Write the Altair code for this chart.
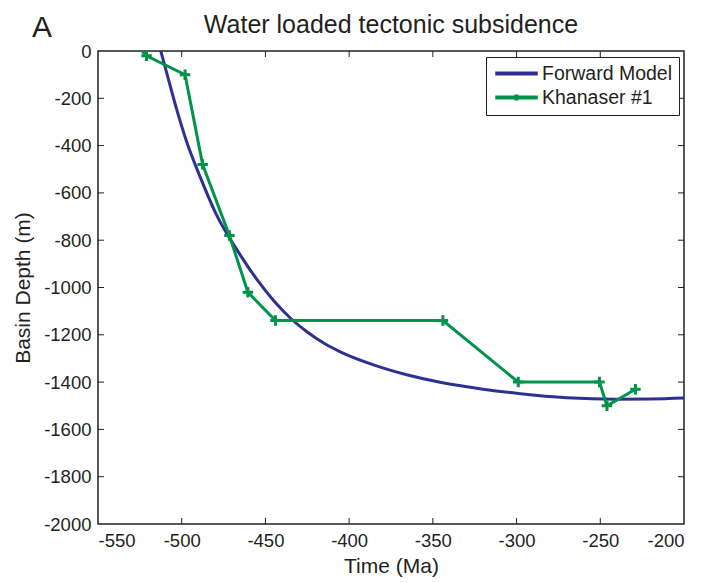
import altair as alt
import pandas as pd

# ---- data ----
model_time = [-515, -512.5, -508, -503, -497, -489, -480, -465, -455, -445, -435, -425, -415,
              -405, -385, -365, -345, -320, -299, -270, -240, -220, -200]
model_depth = [65, 0, -118, -247, -385, -532, -681, -863, -967, -1056, -1130, -1188, -1236,
               -1273, -1328, -1370, -1402, -1430, -1448, -1466, -1472, -1471, -1467]

well_time = [-529, -521, -498, -487.5, -471.5, -460.5, -444, -344, -299, -250.5, -246, -229]
well_depth = [40, -20, -100, -480, -780, -1020, -1140, -1140, -1400, -1400, -1500, -1430]

series_names = ["Forward Model", "Khanaser #1"]
x_ticks = [-550, -500, -450, -400, -350, -300, -250, -200]
y_ticks = [-2000, -1800, -1600, -1400, -1200, -1000, -800, -600, -400, -200, 0]
title_text = "Water loaded tectonic subsidence"
panel_text = "A"

BLUE = "#2e3192"
GREEN = "#00934a"
INK = "#231f20"
FONT = "Liberation Sans"
W, H = 586, 473

model = pd.DataFrame({"time": model_time, "depth": model_depth, "series": series_names[0]})
well = pd.DataFrame({"time": well_time, "depth": well_depth, "series": series_names[1]})
both = pd.concat([model, well], ignore_index=True)

xscale = alt.Scale(domain=[-550, -200], nice=False, zero=False)
yscale = alt.Scale(domain=[-2000, 0], nice=False, zero=False)

xaxis = alt.Axis(values=x_ticks, labelExpr="'' + datum.value", ticks=False, domain=False,
                 grid=False, labelPadding=7, labelFontSize=18.5, labelFont=FONT, labelColor=INK,
                 title="Time (Ma)", titleFontSize=21, titleFont=FONT, titleColor=INK,
                 titleFontWeight="normal", titlePadding=6)
yaxis = alt.Axis(values=y_ticks, labelExpr="'' + datum.value", ticks=False, domain=False,
                 grid=False, labelPadding=7, labelFontSize=18.5, labelFont=FONT, labelColor=INK,
                 title="Basin Depth (m)", titleFontSize=21, titleFont=FONT, titleColor=INK,
                 titleFontWeight="normal", titlePadding=10)

X = lambda f: alt.X(f, scale=xscale, axis=xaxis)
Y = lambda f: alt.Y(f, scale=yscale, axis=yaxis)

legend = alt.Legend(title=None, orient="none", legendX=388, legendY=6,
                    symbolSize=289, symbolStrokeWidth=4, symbolOffset=14, symbolOpacity=1,
                    labelFontSize=19.5, labelFont=FONT, labelColor=INK, labelOffset=15,
                    rowPadding=3, padding=6, strokeColor=INK, fillColor="white")
color = alt.Color("series:N", scale=alt.Scale(domain=series_names, range=[BLUE, GREEN]),
                  legend=legend)
shape = alt.Shape("series:N",
                  scale=alt.Scale(domain=series_names,
                                  range=["M-2.5,0L2.5,0",
                                         "M-2.5,0L2.5,0M0,-0.35L0,0.35M-0.35,0L0.35,0"]),
                  legend=legend)

model_line = alt.Chart(model).mark_line(strokeWidth=3, interpolate="monotone", clip=True).encode(
    x=X("time:Q"), y=Y("depth:Q"), color=color,
)

well_line = alt.Chart(well).mark_line(strokeWidth=3, clip=True).encode(
    x=X("time:Q"), y=Y("depth:Q"), color=color,
)

# invisible layer that only supplies the legend symbols
legend_keys = alt.Chart(both).mark_point(filled=False, opacity=0).encode(
    x=X("time:Q"), y=Y("depth:Q"), color=color, shape=shape,
)

well_pts = alt.Chart(well).mark_point(
    shape="M-1,0L1,0M0,-1L0,1", filled=False, strokeWidth=3, size=110, opacity=1, clip=True
).encode(
    x=X("time:Q"), y=Y("depth:Q"), color=alt.value(GREEN),
)

xt = pd.DataFrame({"t": x_ticks[1:-1]})
yt = pd.DataFrame({"t": y_ticks[1:-1]})
tick_top = alt.Chart(xt).mark_rule(color=INK, strokeWidth=1).encode(
    x=X("t:Q"), y=alt.value(0), y2=alt.value(6))
tick_bot = alt.Chart(xt).mark_rule(color=INK, strokeWidth=1).encode(
    x=X("t:Q"), y=alt.value(H), y2=alt.value(H - 6))
tick_left = alt.Chart(yt).mark_rule(color=INK, strokeWidth=1).encode(
    y=Y("t:Q"), x=alt.value(0), x2=alt.value(6))
tick_right = alt.Chart(yt).mark_rule(color=INK, strokeWidth=1).encode(
    y=Y("t:Q"), x=alt.value(W - 6), x2=alt.value(W))

panel_label = alt.Chart(pd.DataFrame({"t": [panel_text]})).mark_text(
    align="left", baseline="alphabetic", fontSize=30, font=FONT, color=INK
).encode(x=alt.value(-66), y=alt.value(-14), text="t:N")

title_mark = alt.Chart(pd.DataFrame({"t": [title_text]})).mark_text(
    align="center", baseline="alphabetic", fontSize=25, font=FONT, color=INK
).encode(x=alt.value(W / 2), y=alt.value(-18), text="t:N")

chart = alt.layer(
    model_line, well_line, legend_keys, well_pts, tick_top, tick_bot, tick_left, tick_right,
    panel_label, title_mark
).properties(
    width=W, height=H,
    background="white",
    autosize=alt.AutoSizeParams(type="none"),
    padding={"left": 98, "top": 51, "right": 17, "bottom": 59},
).configure_view(stroke=INK, strokeWidth=1.5)

chart.save("out.html", embed_options={"renderer": "svg", "actions": False})
